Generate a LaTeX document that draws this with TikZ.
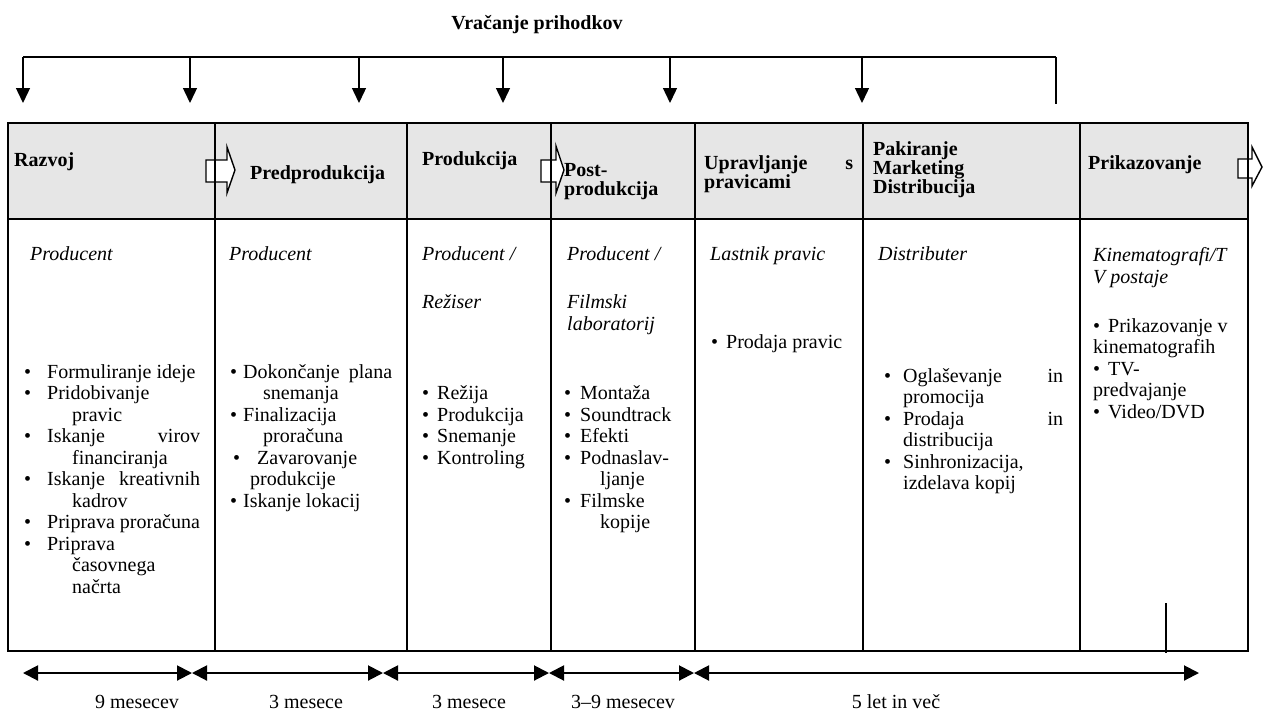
\documentclass[tikz,border=0pt]{standalone}
\usepackage{fontspec}
\setmainfont{Liberation Serif}
\usetikzlibrary{arrows.meta}
\definecolor{hdrfill}{HTML}{E6E6E6}
\newcommand{\bA}{\makebox[23pt][l]{\textbullet}}
\newcommand{\iA}{\hspace*{48pt}}
\newcommand{\bB}{\makebox[13pt][l]{\textbullet}}
\newcommand{\bC}{\makebox[15pt][l]{\textbullet}}
\newcommand{\bD}{\makebox[16pt][l]{\textbullet}}
\newcommand{\bE}{\makebox[19pt][l]{\textbullet}}
\tikzset{
  hdr/.style={font=\bfseries\fontsize{20}{19}\selectfont, align=left, inner sep=0pt, anchor=base west,
              execute at begin node={\lineskiplimit=-30pt}},
  txt/.style={font=\fontsize{20}{21.5}\selectfont, align=left, inner sep=0pt, anchor=base west},
  role/.style={font=\itshape\fontsize{20}{22.5}\selectfont, align=left, inner sep=0pt, anchor=base west},
  frame/.style={line width=2pt},
  colline/.style={line width=1.6pt},
  revline/.style={line width=1.4pt},
  revarrow/.style={revline, -{Triangle[width=14pt,length=15pt]}},
  durarrow/.style={line width=2pt, {Triangle[width=15pt,length=15pt]}-{Triangle[width=15pt,length=15pt]}},
  blockarrow/.style={draw, line width=1.4pt, fill=white, line join=miter},
}
\begin{document}
\begin{tikzpicture}[x=1pt,y=-1pt]
\useasboundingbox (0,0) rectangle (1266,713);

% title
\node[hdr, anchor=base] (title) at (537,29) {Vračanje prihodkov};

% revenue bracket
\coordinate (t1) at (23,57);   \coordinate (h1) at (23,103);
\coordinate (t2) at (190,57);  \coordinate (h2) at (190,103);
\coordinate (t3) at (359,57);  \coordinate (h3) at (359,103);
\coordinate (t4) at (503,57);  \coordinate (h4) at (503,103);
\coordinate (t5) at (670,57);  \coordinate (h5) at (670,103);
\coordinate (t6) at (862,57);  \coordinate (h6) at (862,103);
\coordinate (t7) at (1056,57); \coordinate (h7) at (1056,104);
\draw[revline] (t1) -- (t7);
\foreach \n in {1,...,6} {\draw[revarrow] (t\n) -- (h\n);}
\draw[revline] (t7) -- (h7);

% table header fill
\fill[hdrfill] (8,123) rectangle (1248,219);

% block arrows
\draw[blockarrow] (206,160) -- (227,160) -- (227,147) -- (235,170) -- (227,193) -- (227,182) -- (206,182) -- cycle;
\draw[blockarrow] (541,160) -- (556,160) -- (556,146) -- (564,170) -- (556,193) -- (556,182) -- (541,182) -- cycle;
\draw[blockarrow] (1238,159) -- (1252,159) -- (1252,147) -- (1262,167) -- (1252,186) -- (1252,178) -- (1238,178) -- cycle;

% table lines
\draw[frame] (8,123) rectangle (1248,651);
\draw[frame] (8,219) -- (1248,219);
\foreach \x in {215,407,551,695,863,1080} {\draw[colline] (\x,123) -- (\x,651);}
\coordinate (s1) at (1166,603); \coordinate (s2) at (1166,653);
\draw[line width=1.2pt] (s1) -- (s2);

% header texts (base = baseline of last line)
\node[hdr] (hRazvoj) at (14,166) {Razvoj};
\node[hdr] (hPred) at (250,179) {Predprodukcija};
\node[hdr] (hProd) at (422,165) {Produkcija};
\node[hdr] (hPost) at (564,195) {Post-\\produkcija};
\node[hdr] (hUpr) at (704,188) {\makebox[149pt][l]{Upravljanje\hfill s}\\pravicami};
\node[hdr] (hPak) at (873,193) {Pakiranje\\Marketing\\Distribucija};
\node[hdr] (hPrik) at (1088,169) {Prikazovanje};

% roles
\node[role] (r1) at (30,260) {Producent};
\node[role] (r2) at (229,260) {Producent};
\node[role] (r3a) at (422,260) {Producent /};
\node[role] (r3b) at (422,308) {Režiser};
\node[role] (r4a) at (567,260) {Producent /};
\node[role] (r4b) at (567,330.5) {Filmski\\laboratorij};
\node[role] (r5) at (710,260) {Lastnik pravic};
\node[role] (r6) at (878,260) {Distributer};
\node[role] (r7) at (1093,283.5) {Kinematografi/T\\V postaje};

% bullet lists (base = baseline of last line)
\node[txt] (c1) at (24,593) {%
\bA Formuliranje ideje\\
\bA Pridobivanje\\
\iA pravic\\
\bA\makebox[153pt][l]{Iskanje\hfill virov}\\
\iA financiranja\\
\bA\makebox[153pt][l]{Iskanje\hfill kreativnih}\\
\iA kadrov\\
\bA Priprava proračuna\\
\bA Priprava\\
\iA časovnega\\
\iA načrta};

\node[txt] (c2) at (230,507) {%
\bB\makebox[149pt][l]{Dokončanje\hfill plana}\\
\hspace*{33pt}snemanja\\
\bB Finalizacija\\
\hspace*{33pt}proračuna\\
\makebox[27pt][l]{\hspace*{3pt}\textbullet}Zavarovanje\\
\hspace*{20pt}produkcije\\
\bB Iskanje lokacij};

\node[txt] (c3) at (422,464) {%
\bC Režija\\
\bC Produkcija\\
\bC Snemanje\\
\bC Kontroling};

\node[txt] (c4) at (564,528.5) {%
\bD Montaža\\
\bD Soundtrack\\
\bD Efekti\\
\bD Podnaslav-\\
\hspace*{36pt}ljanje\\
\bD Filmske\\
\hspace*{36pt}kopije};

\node[txt] (c5) at (711,348) {\bC Prodaja pravic};

\node[txt] (c6) at (884,489.5) {%
\bE\makebox[160pt][l]{Oglaševanje\hfill in}\\
\hspace*{19pt}promocija\\
\bE\makebox[160pt][l]{Prodaja\hfill in}\\
\hspace*{19pt}distribucija\\
\bE Sinhronizacija,\\
\hspace*{19pt}izdelava kopij};

\node[txt] (c7) at (1093,418) {%
\bC Prikazovanje v\\
kinematografih\\
\bC TV-\\
predvajanje\\
\bC Video/DVD};

% durations
\coordinate (d0) at (23,673);
\coordinate (d1) at (192,673);
\coordinate (d2) at (383,673);
\coordinate (d3) at (549,673);
\coordinate (d4) at (694,673);
\coordinate (d5) at (1199,673);
\draw[durarrow] (d0) -- (d1);
\draw[durarrow] (d1) -- (d2);
\draw[durarrow] (d2) -- (d3);
\draw[durarrow] (d3) -- (d4);
\draw[durarrow] (d4) -- (d5);

\node[txt, anchor=base] (l1) at (137,708) {9 mesecev};
\node[txt, anchor=base] (l2) at (306,708) {3 mesece};
\node[txt, anchor=base] (l3) at (469,708) {3 mesece};
\node[txt, anchor=base] (l4) at (623,708) {3–9 mesecev};
\node[txt, anchor=base] (l5) at (896,708) {5 let in več};
\end{tikzpicture}
\end{document}
